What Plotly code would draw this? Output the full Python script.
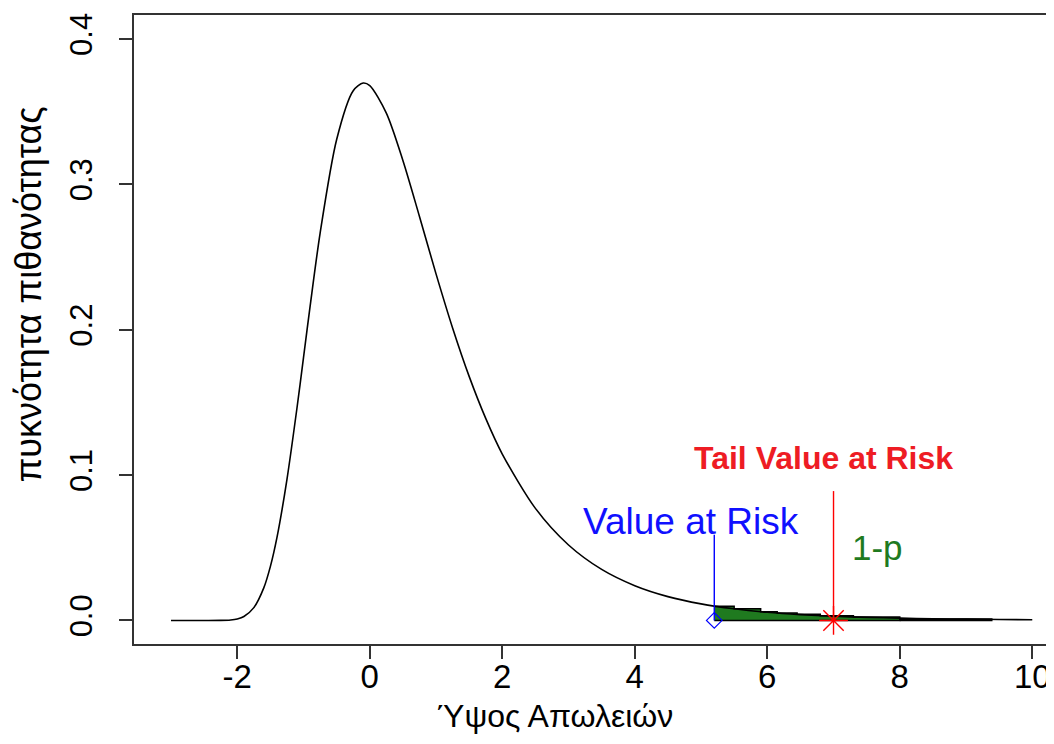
import plotly.graph_objects as go

# Density curve
curve_x = [-3.0, -2.5, -2.25, -2.1, -2.0, -1.9, -1.75, -1.6, -1.5, -1.4, -1.25, -1.1, -1.0,
           -0.9, -0.75, -0.5, -0.25, -0.1, 0.0, 0.25, 0.5, 0.75, 1.0, 1.25, 1.5, 1.75, 2.0,
           2.5, 3.0, 3.5, 4.0, 4.5, 5.0, 5.5, 6.0, 6.5, 7.0, 7.5, 8.0, 8.5, 9.0, 9.5, 10.0]
curve_y = [0.0, 0.0, 0.00005, 0.00035, 0.00105, 0.00272, 0.00882, 0.0224, 0.0372, 0.0573,
           0.0971, 0.1458, 0.1810, 0.2164, 0.2663, 0.3309, 0.3644, 0.3697, 0.3679, 0.3490,
           0.3164, 0.2779, 0.2384, 0.2012, 0.1679, 0.1390, 0.1145, 0.0771, 0.0519, 0.0351,
           0.0239, 0.0164, 0.0114, 0.0080, 0.0056, 0.0040, 0.0029, 0.0021, 0.0016, 0.0012,
           0.0009, 0.0007, 0.0005]

# Tail area (stepped polygon) beyond the VaR
tail_x = [5.2, 5.5, 5.9, 6.15, 6.45, 6.8, 7.3, 8.0]
tail_y = [0.0098, 0.0080, 0.0060, 0.0051, 0.0042, 0.0033, 0.0024, 0.0012]
tail_end_x = [8.0, 9.4]
tail_end_y = [0.0004, 0.0004]

var_x = 5.2
var_top = 0.059
tvar_x = 7.0
tvar_top = 0.089

x_ticks = [-2, 0, 2, 4, 6, 8, 10]
y_ticks = [0.0, 0.1, 0.2, 0.3, 0.4]

FONT = "Liberation Sans, Arial, sans-serif"

fig = go.Figure()

# green tail area
fig.add_trace(go.Scatter(
    x=tail_x + [tail_x[-1], tail_x[0]], y=tail_y + [0, 0],
    mode="lines", line=dict(color="black", width=1.5, shape="hv"),
    fill="toself", fillcolor="#1f7a1f", hoverinfo="skip"))
fig.add_trace(go.Scatter(x=tail_end_x, y=tail_end_y, mode="lines",
                         line=dict(color="black", width=3), hoverinfo="skip"))

# density curve
fig.add_trace(go.Scatter(x=curve_x, y=curve_y, mode="lines",
                         line=dict(color="black", width=1.6, shape="spline", smoothing=0.8)))

# VaR line and marker
fig.add_trace(go.Scatter(x=[var_x, var_x], y=[0, var_top], mode="lines",
                         line=dict(color="blue", width=1.4)))
fig.add_trace(go.Scatter(x=[var_x], y=[0], mode="markers",
                         marker=dict(symbol="diamond-open", size=12, color="blue",
                                     line=dict(width=1.2, color="blue"))))

# TVaR line and marker
fig.add_trace(go.Scatter(x=[tvar_x, tvar_x], y=[0, tvar_top], mode="lines",
                         line=dict(color="red", width=1.4)))
fig.add_trace(go.Scatter(x=[tvar_x], y=[0], mode="markers",
                         marker=dict(symbol="asterisk-open", size=24, color="red",
                                     line=dict(width=1.4, color="red"))))

fig.add_annotation(x=6.85, y=0.1118, text="<b>Tail Value at Risk</b>", showarrow=False,
                   font=dict(family=FONT, size=32, color="#ee1c24"))
fig.add_annotation(x=4.85, y=0.0684, text="Value at Risk", showarrow=False,
                   font=dict(family=FONT, size=37, color="#1010ff"))
fig.add_annotation(x=7.66, y=0.0499, text="1-p", showarrow=False,
                   font=dict(family=FONT, size=35, color="#1f7a1f"))

# axis titles
fig.add_annotation(x=2.8, xref="x", xanchor="center", y=-(716 - 644) / 629, yref="paper",
                   yanchor="middle", text="Ύψος Απωλειών", showarrow=False,
                   font=dict(family=FONT, size=32, color="black"))
fig.add_annotation(xref="paper", x=-(134 - 28) / 920, xanchor="center", yref="paper",
                   y=(644 - 294.5) / 629, yanchor="middle", text="πυκνότητα πιθανότητας",
                   textangle=-90, showarrow=False,
                   font=dict(family=FONT, size=36, color="black"))

# page body has an 8px margin: offset the figure so the plot box lands where it should
fig.update_layout(
    width=1046, height=728,
    margin=dict(l=126, r=0, t=7, b=92),
    plot_bgcolor="white", paper_bgcolor="white",
    showlegend=False,
    xaxis=dict(range=[-3.559, 10.328], tickvals=x_ticks, ticktext=[str(v) for v in x_ticks],
               ticks="outside", ticklen=13, tickwidth=1.5, tickcolor="#333",
               showline=True, linecolor="#333", linewidth=2, mirror=True,
               showgrid=False, zeroline=False,
               tickfont=dict(family=FONT, size=33, color="black"), ticklabelstandoff=-11),
    yaxis=dict(range=[-0.0162, 0.4165], tickvals=y_ticks,
               ticktext=[f"{v:.1f}" for v in y_ticks], tickangle=-90,
               ticks="outside", ticklen=13, tickwidth=1.5, tickcolor="#333",
               showline=True, linecolor="#333", linewidth=2, mirror=False,
               showgrid=False, zeroline=False,
               tickfont=dict(family=FONT, size=31, color="black"), ticklabelstandoff=15),
)

fig.write_html("out.html")
